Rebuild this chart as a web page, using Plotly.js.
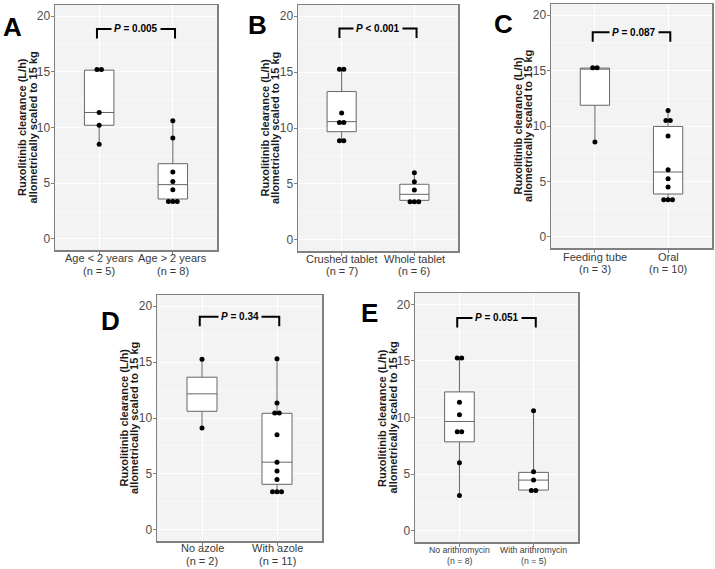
<!DOCTYPE html>
<html>
<head>
<meta charset="utf-8">
<script src="https://cdn.plot.ly/plotly-3.0.1.min.js"></script>
<style>html,body{margin:0;padding:0;background:#fff;}#chart{width:715px;height:569px;}</style>
</head>
<body>
<div id="chart"></div>
<script>
// ---------- DATA ----------
const catA = ['Age < 2 years', 'Age > 2 years'];
const nA = ['(n = 5)', '(n = 8)'];
const ptsA1 = [15.2, 15.2, 11.35, 10.2, 8.5];
const ptsA2 = [10.6, 9.05, 6.0, 5.15, 4.4, 3.35, 3.35, 3.35];
const q1A = [10.2, 3.58], medA = [11.35, 4.87], q3A = [15.15, 6.75], loA = [8.5, 3.35], hiA = [15.2, 10.6];

const catB = ['Crushed tablet', 'Whole tablet'];
const nB = ['(n = 7)', '(n = 6)'];
const ptsB1 = [15.25, 15.25, 11.35, 10.5, 10.5, 8.85, 8.85];
const ptsB2 = [6.0, 5.2, 4.45, 3.4, 3.4, 3.4];
const q1B = [9.67, 3.53], medB = [10.57, 4.07], q3B = [13.26, 4.97], loB = [8.85, 3.4], hiB = [15.25, 6.0];

const catC = ['Feeding tube', 'Oral'];
const nC = ['(n = 3)', '(n = 10)'];
const ptsC1 = [15.25, 15.25, 8.55];
const ptsC2 = [11.4, 10.5, 10.5, 9.1, 6.05, 5.25, 4.5, 3.35, 3.35, 3.35];
const q1C = [11.87, 3.87], medC = [15.22, 5.85], q3C = [15.22, 9.96], loC = [8.55, 3.35], hiC = [15.25, 11.4];

const catD = ['No azole', 'With azole'];
const nD = ['(n = 2)', '(n = 11)'];
const ptsD1 = [15.25, 9.1];
const ptsD2 = [15.3, 11.35, 10.45, 10.45, 8.5, 6.05, 5.25, 4.5, 3.4, 3.4, 3.4];
const q1D = [10.6, 4.07], medD = [12.16, 6.05], q3D = [13.65, 10.42], loD = [9.1, 3.4], hiD = [15.25, 15.3];

const catE = ['No arithromycin', 'With arithromycin'];
const nE = ['(n = 8)', '(n = 5)'];
const ptsE1 = [15.25, 15.25, 11.35, 10.25, 8.75, 8.75, 6.0, 3.1];
const ptsE2 = [10.6, 5.2, 4.47, 3.55, 3.55];
const q1E = [7.85, 3.59], medE = [9.65, 4.47], q3E = [12.26, 5.15], loE = [3.1, 3.55], hiE = [15.25, 10.6];

const panelLetters = ['A', 'B', 'C', 'D', 'E'];
const pTexts = ['<i>P</i> = 0.005', '<i>P</i> < 0.001', '<i>P</i> = 0.087', '<i>P</i> = 0.34', '<i>P</i> = 0.051'];
const pTop = [18.85, 18.9, 18.45, 19.05, 18.8];
const pBottom = [18.0, 18.05, 17.6, 18.2, 17.95];
const yTickVals = [0, 5, 10, 15, 20];
const yTitle1 = 'Ruxolitinib clearance (L/h)';
const yTitle2 = 'allometrically scaled to 15 kg';

// ---------- LAYOUT (pixel boxes of the panels) ----------
const W = 715, H = 569;
const boxes = [
  {l: 55, r: 217, t: 5, b: 250, letter: [12, 27], tfont: 11, g1: 8.3, g2: 20.6, pX: 1.5},
  {l: 298, r: 458, t: 5, b: 251, letter: [257, 25], tfont: 11, g1: 7.5, g2: 19.8, pX: 1.5},
  {l: 551, r: 712, t: 4, b: 248, letter: [503, 24], tfont: 11, g1: 8.5, g2: 20.5, pX: 1.53},
  {l: 157, r: 322, t: 295, b: 541, letter: [110, 321], tfont: 11, g1: 7.3, g2: 19.8, pX: 1.5},
  {l: 415, r: 578, t: 293, b: 542, letter: [369, 313], tfont: 8.7, g1: 8.3, g2: 18.5, pX: 1.5}
];
const panels = [
  {cats: catA, ns: nA, p1: ptsA1, p2: ptsA2, q1: q1A, med: medA, q3: q3A, lo: loA, hi: hiA},
  {cats: catB, ns: nB, p1: ptsB1, p2: ptsB2, q1: q1B, med: medB, q3: q3B, lo: loB, hi: hiB},
  {cats: catC, ns: nC, p1: ptsC1, p2: ptsC2, q1: q1C, med: medC, q3: q3C, lo: loC, hi: hiC},
  {cats: catD, ns: nD, p1: ptsD1, p2: ptsD2, q1: q1D, med: medD, q3: q3D, lo: loD, hi: hiD},
  {cats: catE, ns: nE, p1: ptsE1, p2: ptsE2, q1: q1E, med: medE, q3: q3E, lo: loE, hi: hiE}
];

const FONT = 'Liberation Sans, Arial, Helvetica, sans-serif';
const BG = '#f3f3f3';

// dot-plot style side-by-side offsets for repeated values
function swarm(vals, center) {
  const counts = {}, seen = {};
  vals.forEach(v => counts[v] = (counts[v] || 0) + 1);
  return vals.map(v => {
    const k = counts[v];
    const i = (seen[v] = (seen[v] || 0) + 1) - 1;
    return center + (i - (k - 1) / 2) * 0.06;
  });
}

const traces = [];
const layout = {
  width: W, height: H,
  margin: {l: 0, r: 0, t: 0, b: 0},
  paper_bgcolor: '#ffffff',
  plot_bgcolor: BG,
  showlegend: false,
  font: {family: FONT},
  annotations: [],
  shapes: []
};

panels.forEach((p, i) => {
  const n = i + 1;
  const xa = n === 1 ? 'x' : 'x' + n;
  const ya = n === 1 ? 'y' : 'y' + n;
  const bx = boxes[i];

  traces.push({
    type: 'box', x: [1, 2], q1: p.q1, median: p.med, q3: p.q3,
    lowerfence: p.lo, upperfence: p.hi,
    width: 0.4, whiskerwidth: 0, boxpoints: false,
    fillcolor: '#ffffff', line: {color: '#666666', width: 1},
    xaxis: xa, yaxis: ya, hoverinfo: 'skip'
  });
  const xs = swarm(p.p1, 1).concat(swarm(p.p2, 2));
  const ys = p.p1.concat(p.p2);
  traces.push({
    type: 'scatter', mode: 'markers', x: xs, y: ys,
    marker: {color: '#000000', size: 5},
    xaxis: xa, yaxis: ya, hoverinfo: 'skip'
  });

  const common = {
    showline: true, mirror: true, linecolor: '#808080', linewidth: 1.5,
    ticks: 'outside', ticklen: 3, tickcolor: '#808080', tickwidth: 1,
    zeroline: false, showgrid: true, gridcolor: '#ffffff', gridwidth: 1,
    fixedrange: true
  };
  layout['xaxis' + (n === 1 ? '' : n)] = Object.assign({}, common, {
    domain: [bx.l / W, bx.r / W], anchor: ya,
    range: [0.4, 2.6], tickmode: 'array', tickvals: [1, 2], showticklabels: false
  });
  layout['yaxis' + (n === 1 ? '' : n)] = Object.assign({}, common, {
    domain: [1 - bx.b / H, 1 - bx.t / H], anchor: xa,
    range: [-1, 21], tickmode: 'array', tickvals: yTickVals,
    tickfont: {size: 12, color: '#4d4d4d', family: FONT},
    ticklabelstandoff: -2,
    minor: {tickmode: 'array', tickvals: [2.5, 7.5, 12.5, 17.5], showgrid: true, gridcolor: '#ffffff', gridwidth: 0.5, ticks: ''}
  });

  // x category labels (two tight lines)
  [1, 2].forEach((xv, j) => {
    layout.annotations.push({
      xref: xa, yref: 'paper', x: xv, y: 1 - (bx.b + bx.g1) / H,
      text: p.cats[j], showarrow: false, xanchor: 'center', yanchor: 'middle',
      font: {size: bx.tfont, color: '#3a3a3a', family: FONT}
    });
    layout.annotations.push({
      xref: xa, yref: 'paper', x: xv, y: 1 - (bx.b + bx.g2) / H,
      text: p.ns[j], showarrow: false, xanchor: 'center', yanchor: 'middle',
      font: {size: bx.tfont, color: '#3a3a3a', family: FONT}
    });
  });

  // P-value bracket
  const xl = 0.97, xr = 2.03;
  layout.shapes.push({
    type: 'path', xref: xa, yref: ya,
    path: `M ${xl},${pBottom[i]} L ${xl},${pTop[i]} L ${xr},${pTop[i]} L ${xr},${pBottom[i]}`,
    line: {color: '#000000', width: 2}
  });
  layout.annotations.push({
    xref: xa, yref: ya, x: bx.pX, y: pTop[i], text: '<b>' + pTexts[i] + '</b>',
    showarrow: false, font: {size: 10, color: '#000000', family: FONT},
    bgcolor: BG, borderpad: 2, xanchor: 'center', yanchor: 'middle'
  });

  // panel letter
  layout.annotations.push({
    xref: 'paper', yref: 'paper', x: bx.letter[0] / W, y: 1 - bx.letter[1] / H,
    text: '<b>' + panelLetters[i] + '</b>', showarrow: false,
    font: {size: 26, color: '#000000', family: FONT}, xanchor: 'center', yanchor: 'middle'
  });

  // y-axis titles (two lines, tight spacing)
  const yc = 1 - ((bx.t + bx.b) / 2) / H;
  layout.annotations.push({
    xref: 'paper', yref: 'paper', x: (bx.l - 33.5) / W, y: yc, text: '<b>' + yTitle1 + '</b>',
    textangle: -90, showarrow: false, font: {size: 11, color: '#1a1a1a', family: FONT},
    xanchor: 'center', yanchor: 'middle'
  });
  layout.annotations.push({
    xref: 'paper', yref: 'paper', x: (bx.l - 23) / W, y: yc, text: '<b>' + yTitle2 + '</b>',
    textangle: -90, showarrow: false, font: {size: 11, color: '#1a1a1a', family: FONT},
    xanchor: 'center', yanchor: 'middle'
  });
});

Plotly.newPlot('chart', traces, layout, {displayModeBar: false, staticPlot: true});
</script>
</body>
</html>
